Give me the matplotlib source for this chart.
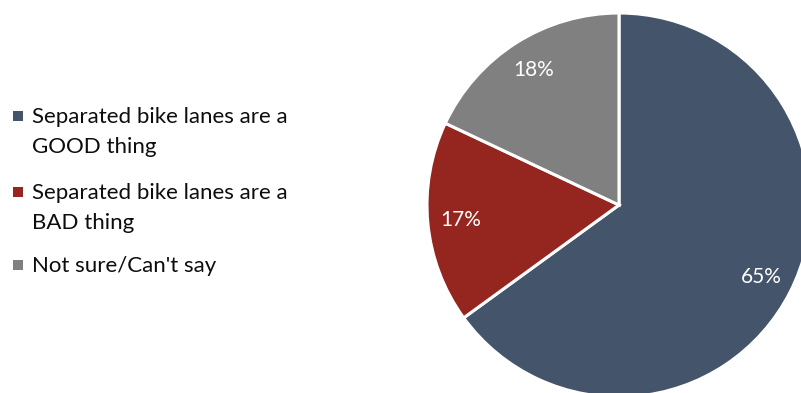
import matplotlib
matplotlib.use("Agg")
import matplotlib.pyplot as plt
from matplotlib.patches import Rectangle

categories = ["Separated bike lanes are a\nGOOD thing",
              "Separated bike lanes are a\nBAD thing",
              "Not sure/Can't say"]
values = [65, 17, 18]
colors = ["#44546A", "#95261F", "#808080"]

plt.rcParams['font.family'] = ['Lato', 'DejaVu Sans']

W, H, DPI = 801, 393, 100
fig = plt.figure(figsize=(W / DPI, H / DPI), dpi=DPI)
ax = fig.add_axes([0, 0, 1, 1])

cx, cy, r = 619, 205, 192  # pixel center (y from top), radius

wedges, texts, autotexts = ax.pie(
    values, colors=colors, startangle=90, counterclock=False,
    autopct=lambda p: f"{p:.0f}%", pctdistance=0.83,
    wedgeprops=dict(edgecolor="white", linewidth=2.2),
    textprops=dict(color="white", fontsize=15),
    radius=1, frame=True)
ax.set_xlim(-cx / r, (W - cx) / r)
ax.set_ylim(-(H - cy) / r, cy / r)
ax.set_aspect('auto')
ax.axis('off')

# Legend drawn manually (pixel layout, y measured from top)
entry_baselines = [123, 199, 272]
line_step = 30
for cat, col, yb in zip(categories, colors, entry_baselines):
    fig.patches.append(Rectangle((13 / W, 1 - (yb - 2) / H), 10 / W, 10 / H,
                                 transform=fig.transFigure, facecolor=col,
                                 edgecolor="none"))
    for j, line in enumerate(cat.split("\n")):
        fig.text(32 / W, 1 - (yb + j * line_step) / H, line, fontsize=16,
                 color="#0d0d0d", ha="left", va="baseline")

fig.savefig("out.png", dpi=DPI)
